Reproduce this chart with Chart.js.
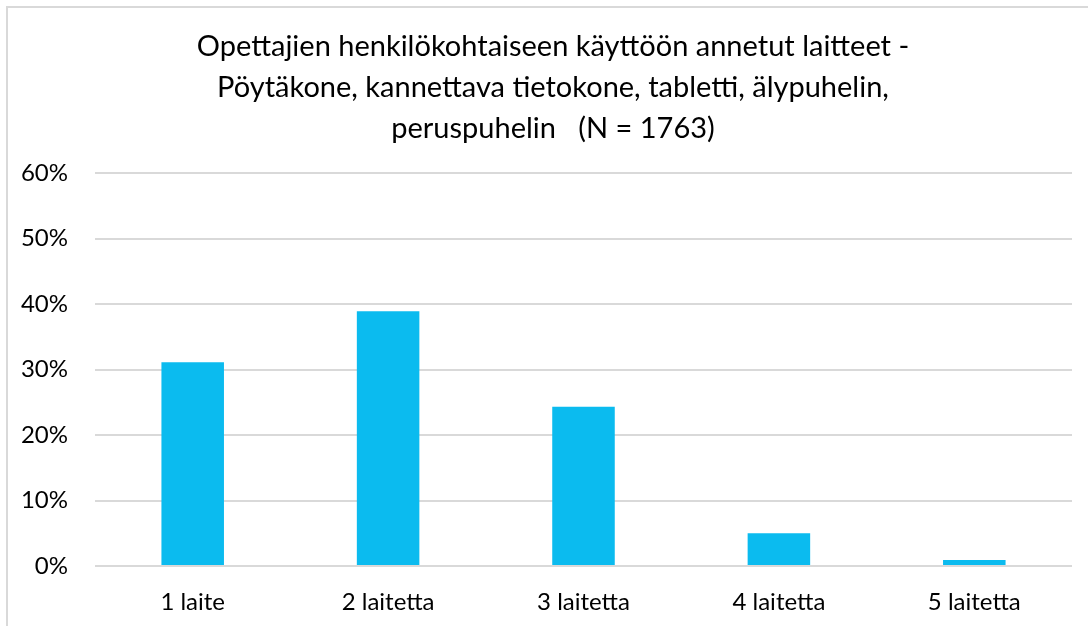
<!DOCTYPE html>
<html>
<head>
<meta charset="utf-8">
<script src="https://cdn.jsdelivr.net/npm/chart.js@4"></script>
<style>
  html, body { margin: 0; padding: 0; background: #fff; overflow: hidden; }
  #wrap { position: absolute; left: 0; top: 0; width: 1088px; height: 626px; }
  #frame { position: absolute; left: 6px; top: 6px; width: 1200px; height: 800px;
           border: 2px solid #d9d9d9; pointer-events: none; }
</style>
</head>
<body>
<div id="wrap"><canvas id="deviceChart" width="1088" height="626"></canvas></div>
<div id="frame"></div>
<script>
var categories = ["1 laite", "2 laitetta", "3 laitetta", "4 laitetta", "5 laitetta"];
var shares = [31.1, 38.9, 24.3, 5.0, 0.9];
var titleLines = [
    "Opettajien henkilökohtaiseen käyttöön annetut laitteet -",
    "Pöytäkone, kannettava tietokone, tabletti, älypuhelin,",
    "peruspuhelin   (N = 1763)"
];

var BarBlue = '#0BBBEF';
var GridGrey = '#d9d9d9';
var fontName = "Lato, 'Open Sans', sans-serif";

// nudge the title box so its centre sits where the original one is
var titleShift = {
    id: 'titleShift',
    afterLayout: function (chart) {
        if (chart.titleBlock) {
            chart.titleBlock.left = 34;
            chart.titleBlock.right = 1072;
        }
    }
};

var ctx1 = document.getElementById("deviceChart");

var barChart1 = new Chart(ctx1, {
    type: 'bar',
    plugins: [titleShift],
    data: {
        labels: categories,
        datasets: [
            {
                data: shares,
                backgroundColor: BarBlue,
                borderWidth: 0,
                barPercentage: 0.32,
                categoryPercentage: 1.0
            }]
    },
    options: {
        responsive: false,
        animation: false,
        layout: {
            padding: { left: 0, right: 16, top: 0, bottom: 0 }
        },
        plugins: {
            legend: { display: false },
            tooltip: { enabled: false },
            title: {
                display: true,
                text: titleLines,
                color: '#000',
                font: { family: fontName, size: 29, weight: 'normal', lineHeight: 1.414 },
                padding: { top: 26, bottom: 24 }
            }
        },
        scales: {
            x: {
                grid: { display: false, drawTicks: false },
                border: { display: false },
                afterFit: function (scale) { scale.height = 60; },
                ticks: {
                    color: '#000',
                    padding: 22,
                    font: { family: fontName, size: 24 }
                }
            },
            y: {
                min: 0,
                max: 60,
                grid: { color: GridGrey, lineWidth: 2, drawTicks: false },
                border: { display: false },
                afterFit: function (scale) { scale.width = 95; },
                ticks: {
                    stepSize: 10,
                    color: '#000',
                    padding: 27,
                    font: { family: fontName, size: 24 },
                    callback: function (v) { return v + '%'; }
                }
            }
        }
    }
});
</script>
</body>
</html>
